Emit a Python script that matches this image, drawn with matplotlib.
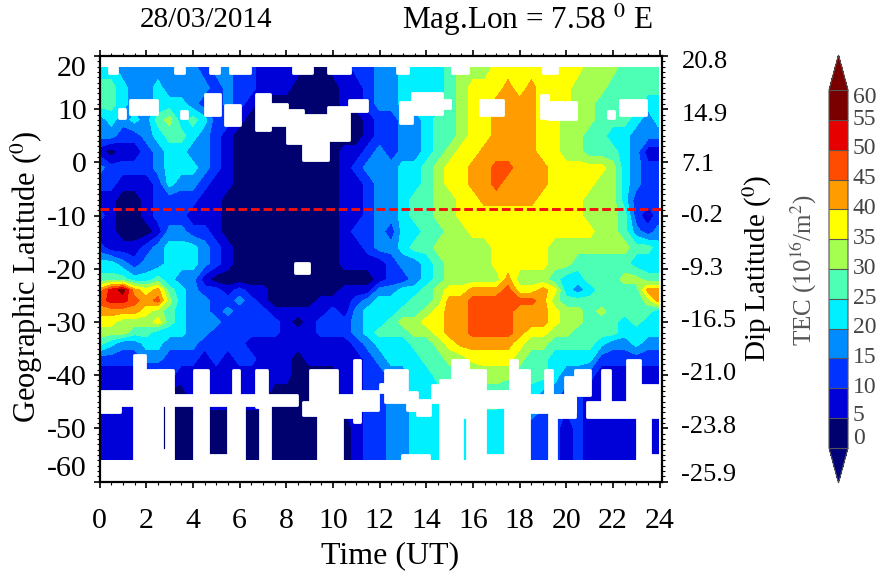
#! /usr/bin/env python
# TEC map, geographic latitude against universal time
import numpy as np
import matplotlib
matplotlib.use("Agg")
import matplotlib.pyplot as plt
from matplotlib.ticker import MultipleLocator, AutoMinorLocator

plt.rcParams['font.family'] = ['Liberation Serif', 'DejaVu Serif']
plt.rcParams['mathtext.fontset'] = 'stix'

# time axis of the grid (half hour steps, last sample just before 24)
time_ut = [i / 2 for i in range(48)] + [23.93]
lat_rows = [17.8, 14, 11, 8, 5, 2, -1, -4, -7, -10, -13, -16, -19, -22, -24,
            -26, -28, -30, -32, -34, -37, -40, -44, -50, -55.8]

# TEC, one list per latitude
tec_p18 = [22,22,17,17,17,17,17,17,17,12,17,17,12,12,7,7,7,7,2,2,7,7,12,12,17,
           17,22,22,22,22,27,32,32,32,37,37,37,37,37,37,37,37,32,32,32,27,27,27,27]
tec_p14 = [27,27,22,17,17,22,17,17,17,17,12,17,12,12,7,7,7,2,2,2,2,7,7,12,17,
           17,22,22,22,22,27,32,37,37,37,42,37,42,37,37,37,32,32,32,27,27,27,27,27]
tec_p11 = [27,27,22,17,17,22,22,22,17,12,12,17,12,7,2,2,2,2,2,2,2,7,7,12,17,
           17,22,22,22,22,27,32,37,37,42,42,42,42,37,37,37,32,32,27,27,27,27,22,22]
tec_p8 = [17,22,17,22,17,27,32,22,27,22,12,12,7,2,2,2,2,2,2,2,2,2,2,7,12,
          12,17,17,22,27,27,32,37,37,42,42,42,42,37,37,32,32,32,27,27,27,22,17,22]
tec_p5 = [17,17,12,12,17,22,27,27,22,17,12,7,2,2,2,2,2,2,2,2,2,2,2,7,12,
          12,17,17,22,27,27,32,37,37,42,42,42,42,37,37,32,32,27,27,22,22,17,17,17]
tec_p2 = [7,2,7,7,12,17,22,22,17,17,12,7,2,2,2,2,2,2,2,2,2,7,7,12,17,
          12,17,17,22,27,32,37,37,42,42,42,42,42,37,37,32,32,27,27,27,22,17,7,7]
tec_m1 = [17,12,12,12,12,17,22,22,22,17,12,7,2,2,2,2,2,2,2,2,2,7,12,17,17,
          17,22,22,27,32,37,37,42,42,47,47,42,42,42,37,37,37,37,37,32,22,17,12,12]
tec_m4 = [12,12,7,7,7,12,22,17,17,12,7,7,2,2,2,2,2,2,2,2,2,7,7,12,17,
          17,22,22,27,32,37,37,42,42,47,42,42,42,42,37,37,37,37,32,32,22,17,12,12]
tec_m7 = [7,7,2,2,7,12,12,12,12,7,7,2,2,2,2,2,2,2,2,2,2,7,7,12,17,
          17,22,27,27,32,32,37,37,42,42,42,42,42,37,37,37,37,32,32,32,22,12,12,12]
tec_m10 = [12,7,2,2,7,12,12,12,7,7,7,2,2,2,2,2,2,2,2,2,2,7,7,12,17,
           17,22,27,27,32,32,37,37,37,37,37,37,37,37,37,37,37,32,32,32,27,12,7,12]
tec_m13 = [7,7,2,2,2,7,17,17,12,12,7,2,2,2,2,2,2,2,2,2,2,7,12,12,17,
           12,22,22,27,27,32,32,37,37,37,37,37,37,37,37,37,37,37,32,32,27,17,12,17]
tec_m16 = [12,7,7,7,12,17,22,22,22,17,12,7,2,2,2,2,2,2,2,2,2,7,7,12,17,
           17,22,27,27,32,32,32,32,32,37,37,37,37,37,32,32,32,32,32,32,32,27,27,22]
tec_m19 = [22,22,17,12,17,17,22,22,22,17,12,7,2,2,2,2,2,2,2,2,2,7,7,7,7,
           12,17,17,22,27,32,32,32,32,37,37,37,37,37,32,32,27,27,27,27,27,22,22,22]
tec_m22 = [27,27,27,22,22,27,22,17,17,7,2,2,2,2,2,2,2,2,2,2,2,2,2,2,7,
           12,12,17,22,27,32,32,32,32,32,42,32,32,32,27,22,22,27,27,27,32,32,27,27]
tec_m24 = [42,52,57,42,37,42,27,22,17,12,12,7,12,7,7,2,2,2,2,2,2,7,7,7,17,
           17,22,22,27,32,37,37,42,42,42,47,37,37,42,37,22,17,22,27,27,27,27,42,42]
tec_m26 = [47,52,52,47,42,47,32,22,17,17,12,12,17,12,7,2,2,2,2,7,7,7,12,17,22,
           22,22,27,27,32,42,42,47,47,47,47,47,47,42,32,27,27,27,27,27,27,27,32,42]
tec_m28 = [42,42,42,42,37,32,27,22,17,17,12,17,12,12,12,7,7,7,7,7,12,7,17,22,22,
           22,27,27,32,37,42,42,47,47,47,47,42,42,42,37,32,32,27,32,27,27,27,27,22]
tec_m30 = [37,37,32,32,32,37,27,22,17,17,17,12,12,12,12,12,7,2,7,12,12,12,17,22,22,
           27,32,32,37,37,42,42,47,47,47,47,42,42,42,37,32,32,27,27,27,22,27,22,22]
tec_m32 = [32,32,32,27,27,22,22,22,17,17,12,12,12,12,12,12,7,7,7,12,12,12,17,22,27,
           27,27,32,32,37,42,42,47,47,47,47,42,37,37,32,32,27,27,27,27,22,22,22,22]
tec_m34 = [27,22,17,17,22,22,17,17,17,12,12,12,12,7,7,7,7,7,7,7,7,7,12,17,22,
           22,22,27,27,32,37,42,42,42,42,42,37,32,32,27,27,27,27,22,17,17,22,17,17]
tec_m37 = [12,12,12,12,17,17,12,12,12,7,12,7,12,12,7,7,7,2,7,7,7,7,7,12,17,
           22,22,22,27,27,32,32,37,37,37,37,32,27,27,22,22,22,22,12,12,12,12,12,12]
tec_m40 = [7,7,7,7,7,7,12,7,7,7,7,7,7,7,7,7,7,2,2,2,2,7,7,12,12,
           17,17,22,22,27,27,27,27,32,32,32,27,27,27,22,17,17,12,7,7,7,7,7,7]
tec_m44 = [7,7,7,7,7,7,2,2,7,7,7,7,7,7,7,2,2,2,2,2,2,7,7,12,12,
           17,17,22,22,22,22,22,22,27,27,22,22,22,17,17,12,12,7,7,7,7,7,7,7]
tec_m50 = [7,7,7,7,7,2,2,2,2,2,2,2,2,2,2,2,2,2,2,2,2,2,7,12,12,
           17,17,22,22,22,22,22,22,22,22,22,17,12,12,12,7,12,7,7,7,7,7,7,7]
tec_m56 = [7,7,7,7,7,2,2,2,2,2,2,2,2,2,2,2,2,2,2,2,2,2,7,12,12,
           17,17,22,22,22,22,22,22,22,22,22,17,12,12,12,7,12,7,7,7,7,7,7,7]

# stretches with no data: start, end (UT), upper and lower latitude
gap_t0 = [0.4, 3.25, 4.75, 5.6, 8.3, 9.8, 12.75, 15.1, 19.0,
          1.31, 0.82, 4.53, 3.5, 5.39, 6.7, 7.3, 8.03, 8.74, 9.81, 10.67,
          12.89, 13.39, 14.75, 16.3, 18.9, 19.2, 21.77, 22.3, 8.39,
          0.03, 0.88, 3.17, 1.46, 1.96, 2.55, 2.86, 2.67, 4.03,
          5.71, 5.5, 6.71, 6.86, 8.74, 9.03, 9.36, 10.17, 10.89, 11.17,
          12.03, 12.25, 13.17, 13.6, 14.24, 14.6, 15.1, 15.53, 15.74, 16.53,
          17.39, 17.6, 17.89, 18.39, 19.07, 19.24, 19.56, 19.96, 20.39, 20.9,
          21.53, 22.6, 23.17, 23.03, 4.67, 12.96, 16.53, 23.57]
gap_t1 = [0.75, 3.6, 5.1, 6.45, 9.1, 10.75, 13.2, 15.8, 19.6,
          2.46, 1.1, 5.17, 3.75, 6.03, 7.3, 8.03, 8.74, 9.81, 10.67, 11.46,
          13.39, 14.67, 15.0, 17.3, 19.2, 20.4, 22.03, 23.4, 8.96,
          0.88, 3.17, 8.46, 1.96, 2.67, 2.96, 3.17, 2.86, 4.64,
          5.99, 6.17, 7.17, 7.31, 9.36, 10.17, 10.39, 10.89, 11.17, 11.95,
          12.6, 13.17, 13.6, 14.17, 14.6, 15.1, 15.53, 15.8, 16.53, 17.39,
          17.6, 17.89, 18.39, 20.39, 19.39, 19.56, 20.39, 20.3, 21.03, 23.93,
          21.89, 23.17, 23.93, 23.57, 5.5, 14.1, 17.39, 23.93]
gap_top = [18, 18, 18, 18, 18, 18, 18, 18, 18,
           11.75, 10, 12.9, 9.7, 10.8, 12.9, 11, 9.9, 9, 10.5, 11.75,
           11.4, 13, 11.7, 11.75, 12.7, 11.4, 9.75, 11.75, -19,
           -42.9, -42.9, -43.8, -36.3, -39.1, -39.1, -39.1, -54, -39.1,
           -39.1, -45.7, -39.1, -45.7, -45, -39.1, -45, -43.8, -37.2, -42.9,
           -41.6, -39.1, -43.2, -44.7, -41.9, -41, -37.1, -37.1, -39.1, -42.9,
           -42.9, -37.2, -39.1, -43.8, -39.1, -44, -43.8, -40.3, -39.1, -45,
           -39.1, -37.1, -41.9, -45, -55, -55, -55, -55]
gap_bot = [16.8, 16.8, 16.8, 16.8, 16.8, 16.8, 16.8, 16.8, 16.8,
           9.1, 8.4, 8.9, 8.3, 7, 6.1, 7, 3.6, 0.5, 4.2, 9.6,
           7.4, 9.1, 10.2, 9, 8.3, 8.2, 8.3, 9, -20.8,
           -46.9, -45.7, -45.7, -56, -56, -43.8, -56, -56, -56,
           -46, -56, -46, -56, -47.5, -46, -56, -47.9, -48.9, -46.6,
           -43.2, -45, -46.6, -47.5, -45, -56, -56, -47.9, -56, -46,
           -56, -56, -56, -46.9, -44, -56, -47.9, -44, -43.8, -47.9,
           -45, -45, -45.7, -56, -56, -56, -56, -56]

tec_levels = [0, 5, 10, 15, 20, 25, 30, 35, 40, 45, 50, 55, 60]
band_colors = ['#00006e', '#0000d8', '#0033ff', '#008cff', '#00f0ff', '#4dffb4',
               '#a4ff50', '#ffff00', '#ff9c00', '#ff4c00', '#e60000', '#7a0000']

x_ticks = list(range(0, 25, 2))
lat_ticks = [20, 10, 0, -10, -20, -30, -40, -50, -60]
lat_labels = ['20', '10', '0', '-10', '-20', '-30', '-40', '-50', '-60']
dip_labels = ['20.8', '14.9', '7.1', '-0.2', '-9.3', '-16.5', '-21.0', '-23.8', '-25.9']
dip_shift = [-4.5, -4, -2, 0, 0, 1, 1, 1, 5]
# colour bar labels are not all on their edges in the original
cbar_labels = ['60', '55', '50', '45', '40', '35', '30', '25', '20', '15', '10', '5', '0']
cbar_label_pos = [58.8, 55, 50.2, 45.1, 40.1, 35.1, 30.1, 25.1, 20.2, 15.2, 10.2, 5.5, 1.6]
dip_equator = -8.7

W, H = 881.0, 577.0
fig = plt.figure(figsize=(W / 100, H / 100), dpi=100)
ax = fig.add_axes([99.5 / W, 1 - 481.5 / H, (662 - 99.5) / W, (481.5 - 56) / H])

tec = np.array([tec_p18, tec_p14, tec_p11, tec_p8, tec_p5, tec_p2, tec_m1, tec_m4,
                tec_m7, tec_m10, tec_m13, tec_m16, tec_m19, tec_m22, tec_m24, tec_m26,
                tec_m28, tec_m30, tec_m32, tec_m34, tec_m37, tec_m40, tec_m44, tec_m50,
                tec_m56], dtype=float)

cf = ax.contourf(time_ut, lat_rows, tec, levels=tec_levels, colors=band_colors,
                 extend='both', zorder=1)
cf.cmap.set_under('#00007a')
cf.cmap.set_over('#7a0000')

# blank out the no data stretches
gap_w = np.array(gap_t1) - np.array(gap_t0)
gap_h = np.array(gap_top) - np.array(gap_bot)
ax.bar(gap_t0, gap_h, width=gap_w, bottom=gap_bot, align='edge', color='white',
       edgecolor='white', linewidth=2.0, joinstyle='round', zorder=2)

ax.axhline(dip_equator, color='#f01010', linewidth=2.1, dashes=(3.0, 1.3), zorder=3)

ax.set_xlim(0, 24.1)
ax.set_ylim(-60, 20)
ax.set_xticks(x_ticks)
ax.set_yticks(lat_ticks)
ax.set_yticklabels(lat_labels)
ax.xaxis.set_minor_locator(MultipleLocator(0.5))
ax.yaxis.set_minor_locator(AutoMinorLocator(10))
ax.tick_params(which='major', direction='out', length=4, width=1.2, top=True, right=True,
               labelsize=21.5, pad=5)
ax.tick_params(axis='x', which='major', pad=15)
ax.tick_params(which='minor', direction='out', length=2, width=0.8, top=True, right=True)
for spine in ax.spines.values():
    spine.set_linewidth(1.6)

ylabs = ax.get_yticklabels()
ylabs[0].set_verticalalignment('top')
ylabs[-1].set_verticalalignment('bottom')

# dip latitude labels on the right side
for lat, lab, shift in zip(lat_ticks, dip_labels, dip_shift):
    ax.annotate(lab, xy=(1, lat), xycoords=ax.get_yaxis_transform(), xytext=(14, shift),
                textcoords='offset points', va='center', ha='left', fontsize=19)

fig.text(390 / W, 1 - 556 / H, 'Time (UT)', fontsize=23, ha='center', va='center')
fig.text(27 / W, 1 - 277 / H, 'Geographic Latitude ($^{0}$)', rotation=90, fontsize=22,
         ha='center', va='center')
fig.text(757 / W, 1 - 268 / H, 'Dip Latitude ($^{0}$)', rotation=90, fontsize=21,
         ha='center', va='center')
fig.text(140 / W, 1 - 20 / H, '28/03/2014', fontsize=21, ha='left', va='center')
fig.text(402 / W, 1 - 20 / H, 'Mag.Lon = 7.58 $^{0}$ E', fontsize=22.5, ha='left', va='center')

# colour bar, the axes box has to hold the two end arrows as well
cax = fig.add_axes([829 / W, 1 - 483 / H, 19 / W, 428 / H])
cb = fig.colorbar(cf, cax=cax, extend='both', extendfrac=0.098, drawedges=True)
cb.set_ticks([])
cb.outline.set_edgecolor('#555555')
cb.outline.set_linewidth(0.8)
cb.dividers.set_color('#555555')
cb.dividers.set_linewidth(0.8)
for lab, val in zip(cbar_labels, cbar_label_pos):
    cax.text(1.25, val, lab, transform=cax.get_yaxis_transform(), fontsize=17,
             color='#444444', va='center', ha='left')
fig.text(804 / W, 1 - 270 / H, 'TEC (10$^{16}$/m$^{2}$)', rotation=90, fontsize=18,
         color='#555555', ha='center', va='center')

fig.savefig('out.png', dpi=100)
